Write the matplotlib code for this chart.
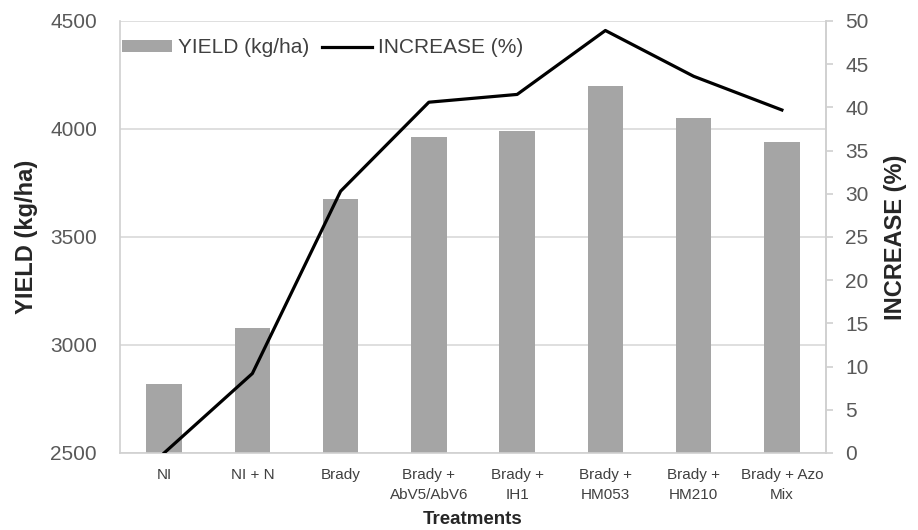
import matplotlib.pyplot as plt
import numpy as np

treatments = ["NI", "NI + N", "Brady", "Brady +\nAbV5/AbV6", "Brady +\nIH1",
              "Brady +\nHM053", "Brady +\nHM210", "Brady + Azo\nMix"]
yield_kg = [2820, 3080, 3675, 3965, 3990, 4200, 4050, 3940]
increase_pct = [0.0, 9.2, 30.3, 40.6, 41.5, 48.9, 43.6, 39.7]

plt.rcParams['font.family'] = ['Liberation Sans', 'DejaVu Sans']

fig = plt.figure(figsize=(9.18, 5.30), dpi=100)
ax = fig.add_axes([0.1307, 0.1453, 0.7691, 0.8151])
x = np.arange(len(treatments))

# bars on the left axis
bars = ax.bar(x, yield_kg, width=0.4, color='#a5a5a5', zorder=2)
ax.set_ylim(2500, 4500)
ax.set_yticks([2500, 3000, 3500, 4000, 4500])
ax.set_xlim(-0.5, len(treatments) - 0.5)
ax.grid(axis='y', color='#d9d9d9', linewidth=1.2, zorder=0)
ax.set_axisbelow(True)
ax.set_xticks(x)
ax.set_xticklabels(treatments, fontsize=11, color='#404040', linespacing=1.55)
ax.tick_params(axis='x', length=0, pad=11)
ax.tick_params(axis='y', length=0, labelsize=15, colors='#595959', pad=16.5)
ax.set_ylabel('YIELD (kg/ha)', fontsize=17, fontweight='bold', color='#262626', labelpad=9)
ax.set_xlabel('Treatments', fontsize=13.5, fontweight='bold', color='#262626', labelpad=6.5)
ax.spines['top'].set_visible(False)
for side in ['left', 'bottom', 'right']:
    ax.spines[side].set_color('#d0d0d0')
    ax.spines[side].set_linewidth(1.2)

# increase line on the right axis
ax2 = ax.twinx()
line, = ax2.plot(x, increase_pct, color='black', linewidth=2.3, zorder=3)
ax2.set_ylim(0, 50)
ax2.set_yticks(range(0, 51, 5))
ax2.tick_params(axis='y', length=5, width=1.2, colors='#d0d0d0', labelcolor='#595959',
                labelsize=15, pad=9)
ax2.set_ylabel('INCREASE (%)', fontsize=17, fontweight='bold', color='#262626', labelpad=11)
for side in ['top', 'left', 'bottom']:
    ax2.spines[side].set_visible(False)
ax2.spines['right'].set_color('#d0d0d0')
ax2.spines['right'].set_linewidth(1.2)

ax.legend([bars, line], ['YIELD (kg/ha)', 'INCREASE (%)'], loc='upper left', ncol=2,
          frameon=False, fontsize=15, bbox_to_anchor=(0.003, 0.96), borderaxespad=0,
          borderpad=0, handlelength=2.4, handleheight=0.5, handletextpad=0.3,
          columnspacing=0.6, labelcolor='#404040')

fig.savefig('out.png', dpi=100)
